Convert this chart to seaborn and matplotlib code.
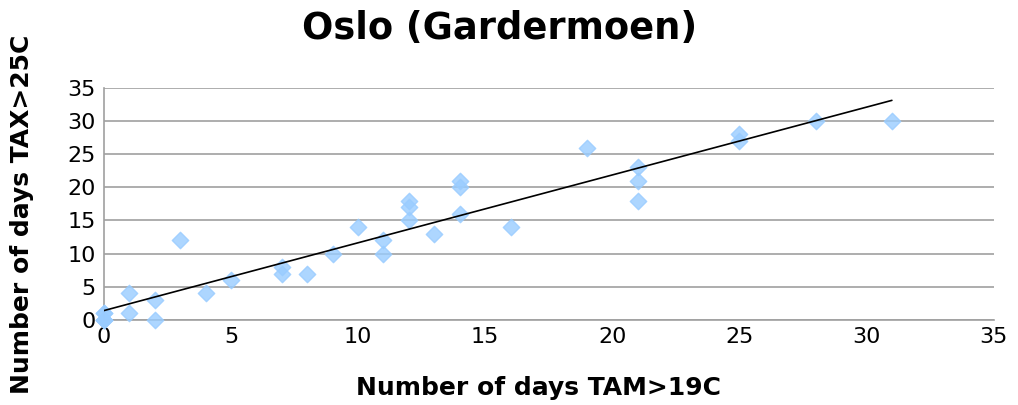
import numpy as np
import pandas as pd
import seaborn as sns
import matplotlib
matplotlib.use("Agg")
import matplotlib.pyplot as plt

# values (several years overlap at the origin)
tam_days = [0, 0, 0, 0, 0, 1, 1, 2, 2, 3, 4, 5, 7, 7, 8, 9, 10, 11, 11, 12, 12, 12,
            13, 14, 14, 14, 16, 19, 21, 21, 21, 25, 25, 28, 31]
tax_days = [0, 0, 0, 1, 1, 4, 1, 3, 0, 12, 4, 6, 8, 7, 7, 10, 14, 12, 10, 18, 17, 15,
            13, 21, 20, 16, 14, 26, 23, 21, 18, 28, 27, 30, 30]
ticks = [0, 5, 10, 15, 20, 25, 30, 35]

df = pd.DataFrame({"tam": tam_days, "tax": tax_days})

sns.set_theme(style="white")
plt.rcParams['font.family'] = ['DejaVu Sans']
plt.rcParams['text.color'] = 'black'
plt.rcParams['axes.labelcolor'] = 'black'
plt.rcParams['xtick.color'] = 'black'
plt.rcParams['ytick.color'] = 'black'

fig = plt.figure(figsize=(10.18, 4.05), dpi=100)
ax = fig.add_axes([0.102, 0.21, 0.874, 0.573])

sns.regplot(data=df, x="tam", y="tax", ax=ax, ci=None,
            marker="D",
            scatter_kws={"color": "#99ccff", "s": 70, "edgecolor": "#99ccff",
                         "zorder": 3, "clip_on": False},
            line_kws={"color": "black", "linewidth": 1.2, "zorder": 4})

ax.set_xlim(0, 35)
ax.set_ylim(0, 35)
ax.set_xticks(ticks)
ax.set_yticks(ticks)
ax.yaxis.grid(True, color="#a0a0a0", linewidth=1.2)
ax.set_axisbelow(True)
for side in ["top", "right"]:
    ax.spines[side].set_visible(False)
for side in ["left", "bottom"]:
    ax.spines[side].set_color("#a0a0a0")
    ax.spines[side].set_linewidth(1.2)
ax.tick_params(axis="y", length=5, color="#a0a0a0", labelcolor="black", labelsize=16, pad=1)
ax.tick_params(axis="x", length=0, labelcolor="black", labelsize=16, pad=5)

ax.set_xlabel("Number of days TAM>19C", fontsize=18, fontweight="bold")
ax.set_ylabel("Number of days TAX>25C", fontsize=18, fontweight="bold")
ax.xaxis.set_label_coords(0.488, -0.24)
ax.yaxis.set_label_coords(-0.078, 0.455)
fig.suptitle("Oslo (Gardermoen)", fontsize=26.5, fontweight="bold", x=0.491, y=0.975)

fig.savefig("out.png", dpi=100)
